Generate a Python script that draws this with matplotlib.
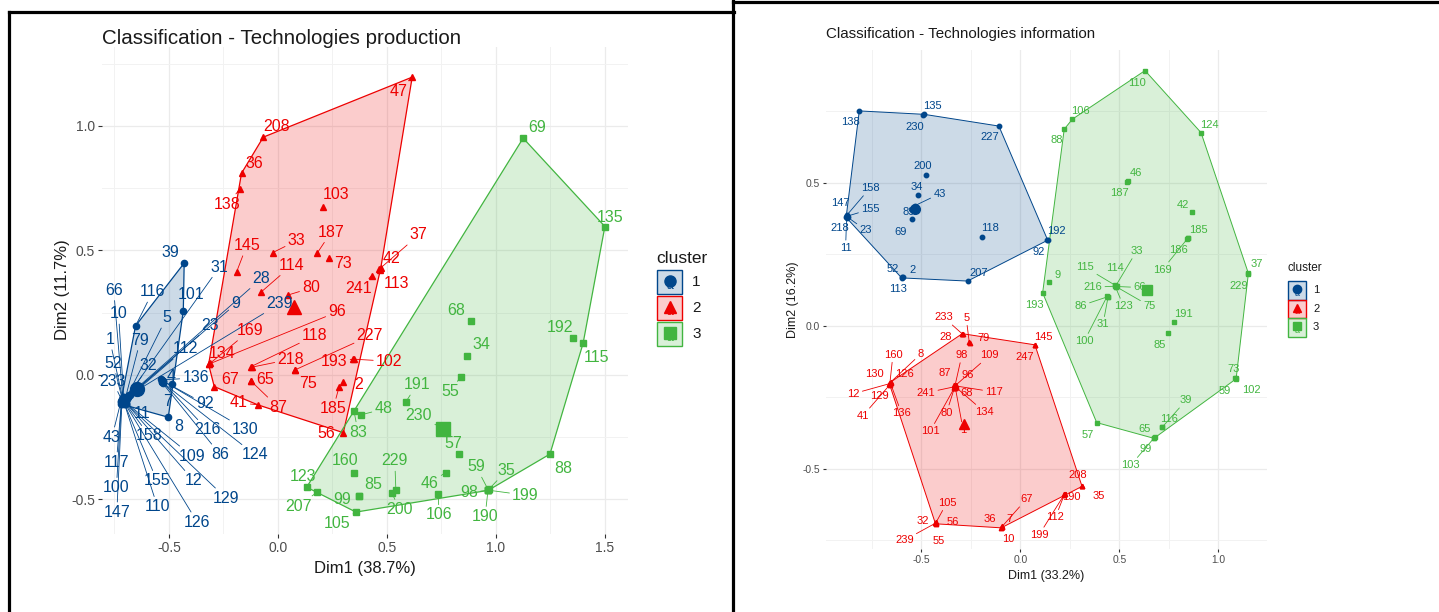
import numpy as np
import matplotlib.pyplot as plt
from matplotlib.patches import Polygon, Rectangle
from matplotlib.lines import Line2D
from matplotlib.ticker import MultipleLocator, FormatStrFormatter

plt.rcParams['font.family'] = ['Liberation Sans', 'DejaVu Sans']
plt.rcParams['axes.unicode_minus'] = False

# ---- Technologies production (k-means on PCA, Dim1 38.7 %, Dim2 11.7 %) ----
prod_labels = ['39', '101', '116', '8', '7', '136', '4', '92', '216', '130', '86', '124',
               '31', '66', '10', '5', '9', '28', '239', '23', '1', '79', '112', '52', '32',
               '233', '11', '43', '158', '109', '117', '155', '12', '129', '100', '110',
               '147', '126',
               '47', '208', '36', '138', '103', '145', '33', '187', '73', '37', '42', '241',
               '113', '114', '80', '96', '169', '134', '118', '218', '227', '75', '193',
               '102', '67', '65', '87', '41', '2', '185', '56',
               '69', '135', '68', '192', '115', '34', '55', '191', '83', '48', '230', '57',
               '160', '229', '200', '85', '99', '46', '106', '59', '35', '98', '199', '190',
               '88', '123', '207', '105']
prod_dim1 = [-0.430, -0.434, -0.653, -0.503, -0.486, -0.533, -0.538, -0.528, -0.530, -0.525,
             -0.532, -0.527,
             -0.690, -0.712, -0.708, -0.695, -0.688, -0.685, -0.680, -0.690, -0.712, -0.700,
             -0.692, -0.714, -0.698, -0.716, -0.702, -0.720, -0.705, -0.700, -0.718, -0.706,
             -0.698, -0.696, -0.718, -0.704, -0.716, -0.700,
             0.616, -0.067, -0.167, -0.174, 0.208, -0.189, -0.024, 0.180, 0.234, 0.472,
             0.465, 0.430, 0.468, -0.078, 0.047, -0.315, -0.312, -0.318, -0.124, -0.120,
             0.078, 0.080, 0.345, 0.350, -0.292, -0.124, -0.122, -0.093, 0.300, 0.281, 0.300,
             1.125, 1.500, 0.884, 1.352, 1.400, 0.868, 0.838, 0.587, 0.349, 0.379, 0.743,
             0.829, 0.349, 0.541, 0.522, 0.372, 0.370, 0.769, 0.735, 0.965, 0.967, 0.963,
             0.966, 0.964, 1.248, 0.132, 0.180, 0.358]
prod_dim2 = [0.449, 0.258, 0.197, -0.170, -0.036, -0.020, -0.018, -0.024, -0.028, -0.026,
             -0.030, -0.032,
             -0.085, -0.090, -0.088, -0.092, -0.088, -0.082, -0.080, -0.090, -0.095, -0.094,
             -0.096, -0.098, -0.100, -0.102, -0.104, -0.106, -0.108, -0.110, -0.110, -0.112,
             -0.112, -0.114, -0.116, -0.116, -0.118, -0.118,
             1.196, 0.955, 0.810, 0.746, 0.676, 0.415, 0.491, 0.489, 0.471, 0.430,
             0.424, 0.398, 0.420, 0.332, 0.321, 0.044, 0.046, 0.042, 0.033, 0.031,
             0.020, 0.018, 0.063, 0.063, -0.047, -0.024, -0.026, -0.120, -0.027, -0.047, -0.232,
             0.951, 0.596, 0.218, 0.147, 0.127, 0.076, -0.007, -0.108, -0.145, -0.161, -0.209,
             -0.318, -0.392, -0.462, -0.473, -0.486, -0.488, -0.392, -0.478, -0.462, -0.460,
             -0.464, -0.463, -0.461, -0.318, -0.451, -0.471, -0.551]
prod_cluster = [1] * 38 + [2] * 31 + [3] * 28

# ---- Technologies information (Dim1 33.2 %, Dim2 16.2 %) ----
info_labels = ['138', '135', '230', '227', '200', '34', '43', '89', '69', '118', '147', '158',
               '155', '218', '23', '11', '192', '92', '207', '52', '2', '113',
               '233', '28', '5', '79', '145', '247', '160', '8', '130', '126', '12', '129',
               '41', '136', '98', '109', '87', '96', '241', '68', '117', '80', '134', '101',
               '1', '208', '35', '190', '112', '199', '105', '32', '56', '239', '55', '36',
               '7', '67', '10',
               '110', '106', '88', '124', '46', '187', '42', '185', '186', '169', '37', '229',
               '33', '115', '114', '216', '66', '123', '75', '86', '31', '100', '9', '193',
               '191', '85', '73', '102', '59', '39', '116', '57', '65', '99', '103']
info_dim1 = [-0.814, -0.486, -0.490, -0.109, -0.477, -0.518, -0.535, -0.548, -0.549, -0.193,
             -0.878, -0.876, -0.874, -0.880, -0.872, -0.878, 0.137, 0.135, -0.267, -0.597,
             -0.592, -0.600,
             -0.292, -0.294, -0.259, -0.256, 0.073, 0.071, -0.659, -0.655, -0.661, -0.657,
             -0.662, -0.658, -0.660, -0.656, -0.331, -0.328, -0.334, -0.326, -0.336, -0.329,
             -0.325, -0.333, -0.327, -0.335, -0.330, 0.309, 0.311, 0.224, 0.222, 0.220,
             -0.427, -0.429, -0.425, -0.430, -0.426, -0.095, -0.093, -0.091, -0.097,
             0.629, 0.262, 0.221, 0.912, 0.541, 0.539, 0.868, 0.847, 0.845, 0.843, 1.151,
             1.149, 0.481, 0.479, 0.483, 0.477, 0.485, 0.480, 0.484, 0.440, 0.442, 0.438,
             0.145, 0.112, 0.777, 0.743, 1.087, 1.089, 1.085, 0.716, 0.714, 0.385, 0.676,
             0.674, 0.678]
info_dim2 = [0.752, 0.740, 0.738, 0.699, 0.527, 0.458, 0.420, 0.406, 0.373, 0.312,
             0.385, 0.388, 0.384, 0.382, 0.380, 0.378, 0.301, 0.299, 0.157, 0.170,
             0.172, 0.168,
             -0.029, -0.027, -0.055, -0.058, -0.066, -0.068, -0.198, -0.196, -0.200, -0.199,
             -0.202, -0.204, -0.206, -0.201, -0.210, -0.208, -0.206, -0.212, -0.213, -0.215,
             -0.210, -0.216, -0.214, -0.218, -0.212, -0.559, -0.561, -0.587, -0.589, -0.591,
             -0.688, -0.686, -0.690, -0.690, -0.692, -0.704, -0.702, -0.700, -0.706,
             0.893, 0.723, 0.688, 0.676, 0.507, 0.505, 0.400, 0.309, 0.307, 0.305, 0.184,
             0.182, 0.140, 0.142, 0.141, 0.139, 0.138, 0.136, 0.137, 0.102, 0.100, 0.104,
             0.155, 0.116, 0.015, -0.023, -0.183, -0.185, -0.181, -0.354, -0.352, -0.338,
             -0.391, -0.393, -0.389]
info_cluster = [1] * 22 + [2] * 39 + [3] * 35

# label placement (pixel offsets from the point, like ggrepel)
prod_offsets = {
    '39': (-14, 11), '101': (8, 16), '116': (17, 34), '8': (10, -9), '7': (-4, -18),
    '136': (34, 2), '4': (10, 3), '92': (42, -23), '216': (45, -48), '130': (82, -48),
    '86': (58, -72), '124': (92, -72),
    '31': (92, 129), '66': (-9, 107), '10': (-5, 83), '5': (40, 80), '9': (108, 93),
    '28': (133, 117), '239': (150, 91), '23': (83, 72), '1': (-13, 59), '79': (15, 58),
    '112': (58, 50), '52': (-9, 36), '32': (23, 34), '233': (-9, 19), '11': (17, -13),
    '43': (-9, -36), '158': (25, -34), '109': (67, -54), '117': (-5, -60), '155': (33, -78),
    '12': (68, -78), '129': (100, -95), '100': (-5, -84), '110': (33, -103),
    '147': (-5, -108), '126': (72, -118),
    '47': (-14, -14), '208': (13, 11), '36': (13, 10), '138': (-13, -15), '103': (13, 12),
    '145': (10, 26), '33': (24, 12), '187': (14, 21), '73': (14, -6), '37': (38, 33),
    '42': (12, 11), '241': (-13, -13), '113': (17, -13), '114': (31, 27), '80': (23, 7),
    '96': (128, 52), '169': (40, 33), '134': (14, 11), '118': (64, 31), '218': (39, 8),
    '227': (75, 34), '75': (13, -13), '193': (-19, -2), '102': (35, -2), '67': (16, 7),
    '65': (14, 1), '87': (27, -26), '41': (-19, 2), '2': (15, -3), '185': (-6, -22),
    '56': (-17, -1),
    '69': (14, 11), '135': (5, 9), '68': (-14, 10), '192': (-13, 11), '115': (13, -14),
    '34': (14, 11), '55': (-10, -15), '191': (11, 17), '83': (4, -21), '48': (23, 6),
    '230': (-21, 11), '57': (-5, 11), '160': (-9, 12), '229': (-1, 29), '200': (8, -17),
    '85': (14, 11), '99': (-16, -3), '46': (-16, -11), '106': (1, -21), '59': (-12, 23),
    '35': (18, 19), '98': (-19, -2), '199': (37, -5), '190': (-3, -27), '88': (13, -14),
    '123': (-4, 11), '207': (-19, -14), '105': (-19, -11),
}
info_offsets = {
    '138': (-9, -11), '135': (8, 8), '230': (-9, -12), '227': (-9, -11), '200': (-3, 9),
    '34': (-1, 8), '43': (25, 12), '89': (-3, -2), '69': (-11, -13), '118': (8, 9),
    '147': (-6, 13), '158': (23, 27), '155': (23, 7), '218': (-6, -11), '23': (18, -13),
    '11': (-1, -30), '192': (9, 9), '92': (-9, -12), '207': (11, 8), '52': (-9, 8),
    '2': (9, 7), '113': (-4, -11),
    '233': (-19, 17), '28': (-17, -3), '5': (-3, 24), '79': (14, 5), '145': (8, 8),
    '247': (-10, -12), '160': (3, 28), '8': (30, 28), '130': (-15, 9), '126': (14, 9),
    '12': (-36, -10), '129': (-11, -12), '41': (-27, -31), '136': (11, -30),
    '98': (7, 31), '109': (34, 30), '87': (-10, 12), '96': (12, 12), '241': (-28, -6),
    '68': (11, -6), '117': (38, -6), '80': (-8, -25), '134': (29, -25), '101': (-24, -43),
    '1': (8, -43), '208': (-4, 11), '35': (17, -10), '190': (7, -3), '112': (-9, -23),
    '199': (-25, -40), '105': (11, 20), '32': (-13, 1), '56': (16, 1), '239': (-31, -17),
    '55': (3, -17), '36': (-12, 8), '7': (7, 8), '67': (24, 27), '10': (7, -11),
    '110': (-8, -12), '106': (8, 8), '88': (-7, -11), '124': (8, 8), '46': (8, 8),
    '187': (-8, -11), '42': (-9, 7), '185': (10, 8), '186': (-9, -12), '169': (-25, -31),
    '37': (8, 9), '229': (-9, -12), '33': (21, 35), '115': (-30, 18), '114': (-1, 18),
    '216': (-22, -1), '66': (23, -1), '123': (8, -19), '75': (33, -19), '86': (-27, -9),
    '31': (-5, -27), '100': (-23, -45), '9': (8, 7), '193': (-8, -12), '191': (9, 8),
    '85': (-8, -12), '73': (-2, 9), '102': (15, -11), '59': (-11, -13), '39': (24, 27),
    '116': (7, 8), '57': (-9, -12), '65': (-10, 9), '99': (-8, -11), '103': (-24, -28),
}

palette = {1: '#00468B', 2: '#ED0000', 3: '#42B540'}
shapes = {1: 'o', 2: '^', 3: 's'}

W, H = 1439, 612
fig = plt.figure(figsize=(W / 100, H / 100), dpi=100)


def fx(px):
    return px / W


def fy(py):
    return 1 - py / H


def convex_hull(pts):
    p = sorted(set(map(tuple, pts)))
    if len(p) < 3:
        return p

    def cross(o, a, b):
        return (a[0] - o[0]) * (b[1] - o[1]) - (a[1] - o[1]) * (b[0] - o[0])
    lower, upper = [], []
    for q in p:
        while len(lower) >= 2 and cross(lower[-2], lower[-1], q) <= 0:
            lower.pop()
        lower.append(q)
    for q in reversed(p):
        while len(upper) >= 2 and cross(upper[-2], upper[-1], q) <= 0:
            upper.pop()
        upper.append(q)
    return lower[:-1] + upper[:-1]


def cluster_plot(box, labels, d1, d2, cl, offsets, xlim, ylim, fs_lab, ms, ms_c,
                 fs_tick, tick_len, seg_min, lw):
    left, top, right, bottom = box
    ax = fig.add_axes([fx(left), fy(bottom), fx(right) - fx(left), fy(top) - fy(bottom)])
    d1 = np.asarray(d1)
    d2 = np.asarray(d2)
    cl = np.asarray(cl)
    for k in (1, 2, 3):
        idx = np.where(cl == k)[0]
        pts = np.column_stack([d1[idx], d2[idx]])
        hull = convex_hull(pts)
        ax.add_patch(Polygon(hull, closed=True, facecolor=palette[k], alpha=0.2,
                             edgecolor='none', zorder=1))
        ax.add_patch(Polygon(hull, closed=True, facecolor='none', edgecolor=palette[k],
                             lw=lw, zorder=2))
        ax.plot(pts[:, 0], pts[:, 1], ls='none', marker=shapes[k], ms=ms,
                color=palette[k], zorder=3)
        c = pts.mean(axis=0)
        ax.plot(c[0], c[1], marker=shapes[k], ms=ms_c, color=palette[k], zorder=4)
        for i in idx:
            dx, dy = offsets[labels[i]]
            arrow = None
            if np.hypot(dx, dy) > seg_min:
                arrow = dict(arrowstyle='-', color=palette[k], lw=0.6,
                             shrinkA=0, shrinkB=0)
            ax.annotate(labels[i], (d1[i], d2[i]), xytext=(dx, dy),
                        textcoords='offset pixels', ha='center', va='center',
                        fontsize=fs_lab, color=palette[k], zorder=5, arrowprops=arrow)
    ax.set_xlim(xlim)
    ax.set_ylim(ylim)
    for s in ax.spines.values():
        s.set_visible(False)
    for axis in (ax.xaxis, ax.yaxis):
        axis.set_major_locator(MultipleLocator(0.5))
        axis.set_minor_locator(MultipleLocator(0.25))
        axis.set_major_formatter(FormatStrFormatter('%.1f'))
    ax.grid(which='major', color='#EBEBEB', lw=0.9)
    ax.grid(which='minor', color='#F2F2F2', lw=0.7)
    ax.set_axisbelow(True)
    ax.tick_params(which='major', length=tick_len, width=0.8, color='#333333',
                   labelsize=fs_tick, labelcolor='#4D4D4D', pad=2)
    ax.tick_params(which='minor', length=0)
    return ax


def draw_legend(x_title, y_title, key_x, key_tops, key_w, key_h, lab_x, fs_t, fs_l, ms):
    fig.text(fx(x_title), fy(y_title), 'cluster', fontsize=fs_t, color='#1A1A1A',
             ha='left', va='center')
    for k, top in zip((1, 2, 3), key_tops):
        fig.add_artist(Rectangle((fx(key_x), fy(top + key_h)), key_w / W, key_h / H,
                                 transform=fig.transFigure, facecolor=palette[k],
                                 alpha=0.2, edgecolor='none'))
        fig.add_artist(Rectangle((fx(key_x), fy(top + key_h)), key_w / W, key_h / H,
                                 transform=fig.transFigure, facecolor='none',
                                 edgecolor=palette[k], lw=1.0))
        cx = key_x + key_w / 2
        cy = top + key_h / 2
        fig.text(fx(cx), fy(cy + key_h * 0.15), 'a', fontsize=fs_l * 0.8,
                 color=palette[k], ha='center', va='center')
        fig.add_artist(Line2D([fx(cx)], [fy(cy - key_h * 0.05)], marker=shapes[k],
                              ms=ms, color=palette[k], transform=fig.transFigure))
        fig.text(fx(lab_x), fy(cy), str(k), fontsize=fs_l, color='#1A1A1A',
                 ha='left', va='center')


# left chart
cluster_plot((102, 47, 628, 534), prod_labels, prod_dim1, prod_dim2, prod_cluster,
             prod_offsets, (-0.807, 1.606), (-0.639, 1.317), fs_lab=11.5, ms=4.5,
             ms_c=10, fs_tick=10, tick_len=3, seg_min=18, lw=0.9)
fig.text(fx(102), fy(39), 'Classification - Technologies production', fontsize=14.8,
         color='#1A1A1A', ha='left', va='center')
fig.text(fx(365), fy(568), 'Dim1 (38.7%)', fontsize=12, color='#1A1A1A',
         ha='center', va='center')
fig.text(fx(62), fy(290), 'Dim2 (11.7%)', fontsize=12, color='#1A1A1A',
         ha='center', va='center', rotation=90)
draw_legend(656, 258, 657, (270, 296, 322), 25, 24, 692, 12.5, 11, 8)

# right chart
cluster_plot((826, 50, 1267, 549), info_labels, info_dim1, info_dim2, info_cluster,
             info_offsets, (-0.982, 1.245), (-0.780, 0.965), fs_lab=8, ms=3.2,
             ms_c=7, fs_tick=7.4, tick_len=2.2, seg_min=20, lw=0.7)
fig.text(fx(826), fy(34), 'Classification - Technologies information', fontsize=10.9,
         color='#1A1A1A', ha='left', va='center')
fig.text(fx(1046), fy(576), 'Dim1 (33.2%)', fontsize=9, color='#1A1A1A',
         ha='center', va='center')
fig.text(fx(793), fy(300), 'Dim2 (16.2%)', fontsize=9, color='#1A1A1A',
         ha='center', va='center', rotation=90)
draw_legend(1287, 268, 1288, (281, 299.5, 318), 18, 18.5, 1313, 8.5, 8, 6)

# screenshot frame lines
for xs, ys in [((9, 9), (12, 612)), ((9, 734), (12, 12)), ((733, 733), (0, 612)),
               ((733, 1439), (2, 2))]:
    fig.add_artist(Line2D([fx(x) for x in xs], [fy(y) for y in ys], color='black',
                          lw=2.3, transform=fig.transFigure))

fig.savefig('out.png', dpi=100, facecolor='white')
